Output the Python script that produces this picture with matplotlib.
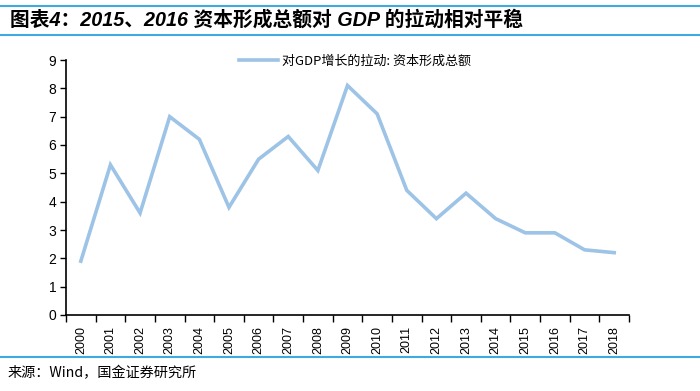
import matplotlib
matplotlib.use("Agg")
import matplotlib.pyplot as plt
from matplotlib.lines import Line2D

plt.rcParams['font.family'] = ['Liberation Sans', 'Noto Sans CJK SC', 'DejaVu Sans']

years = [str(y) for y in range(2000, 2019)]
values = [1.9, 5.3, 3.6, 7.0, 6.2, 3.8, 5.5, 6.3, 5.1, 8.1, 7.1, 4.4, 3.4, 4.3, 3.4, 2.9, 2.9, 2.3, 2.2]
series_name = "对GDP增长的拉动: 资本形成总额"
title = "图表4：2015、2016 资本形成总额对 GDP 的拉动相对平稳"
source = "来源：Wind，国金证券研究所"

line_color = "#9DC3E6"
rule_color = "#3FA9E0"

fig = plt.figure(figsize=(7.0, 3.91), dpi=100)
ax = fig.add_axes([66/700, 1-315/391, (629-66)/700, (315-60)/391])

x = list(range(len(years)))
ax.plot(x, values, color=line_color, lw=2.6, solid_joinstyle='miter')

ax.set_xlim(-0.5, len(years) - 0.5)
ax.set_ylim(0, 9)
ax.set_yticks(range(0, 10))
ax.tick_params(axis='y', labelsize=10, length=4, width=1, direction='out', pad=3)

ax.set_xticks([i - 0.5 for i in range(len(years) + 1)])
ax.set_xticklabels([])
ax.set_xticks(x, minor=True)
ax.set_xticklabels(years, minor=True, rotation=90, fontsize=9)
ax.tick_params(axis='x', which='major', length=5, width=1, direction='out')
ax.tick_params(axis='x', which='minor', length=0, pad=8)

for s in ['top', 'right']:
    ax.spines[s].set_visible(False)
for s in ['left', 'bottom']:
    ax.spines[s].set_linewidth(1.2)

handle = Line2D([], [], color=line_color, lw=2.6)
ax.legend([handle], [series_name], loc='center', bbox_to_anchor=(0.513, 0.995),
          frameon=False, prop={'family': ['Noto Sans CJK SC'], 'size': 9.4},
          handlelength=3.0, handletextpad=0.3)

# header / footer rules
fig.add_artist(Line2D([0.0, 1.0], [1-5.5/391, 1-5.5/391], color=rule_color, lw=1.5))
fig.add_artist(Line2D([0.0, 1.0], [1-35/391, 1-35/391], color=rule_color, lw=1.5))
fig.add_artist(Line2D([0.0, 1.0], [1-357/391, 1-357/391], color=rule_color, lw=1.5))

fig.text(10/700, 1-20/391, title, fontsize=14.2, fontweight='bold', fontstyle='italic',
         va='center', ha='left', family=['Liberation Sans', 'Noto Sans CJK SC'])
fig.text(8/700, 1-373/391, source, fontsize=10.2, va='center', ha='left',
         family=['Noto Sans CJK SC', 'DejaVu Sans'])

fig.savefig("out.png", dpi=100)
